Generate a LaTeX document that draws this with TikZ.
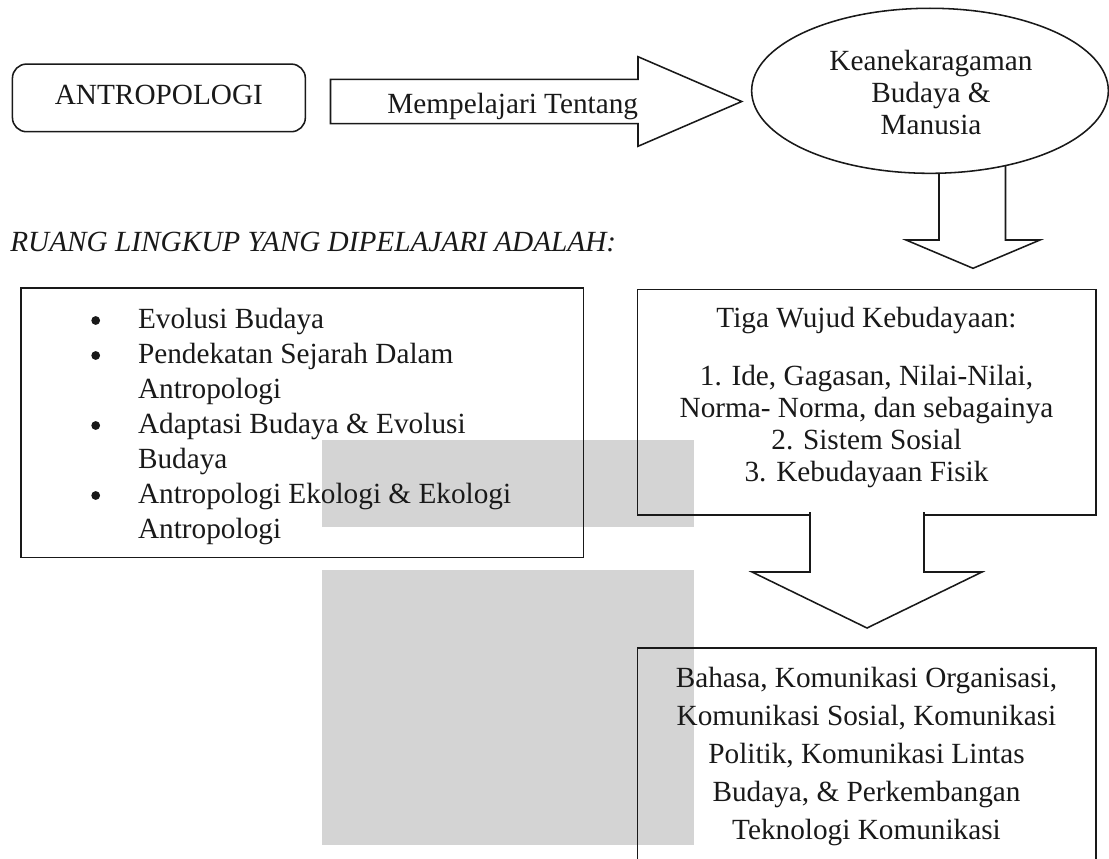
\documentclass[tikz,border=0pt]{standalone}
\usepackage{fontspec}
\setmainfont{Liberation Serif}
\usetikzlibrary{shapes.geometric}
\definecolor{wm}{RGB}{212,212,212}
\definecolor{ink}{RGB}{25,25,25}
\begin{document}
\begin{tikzpicture}[x=0.025cm,y=-0.025cm,
  outl/.style={draw=ink, line width=1.1pt},
  boxw/.style={outl, fill=white, inner sep=0pt},
  boxo/.style={outl, inner sep=0pt},
  txt/.style={text=ink, inner sep=0pt, font=\fontsize{20.81}{22.55}\selectfont},
  bul/.style={fill=ink},
]
\useasboundingbox (0,0) rectangle (1109,859);
\clip (0,0) rectangle (1109,859);
% watermark blocks
\fill[wm] (321.5,440) rectangle (694,527);
\fill[wm] (321.5,570) rectangle (694,845);

% ANTROPOLOGI
\node[boxw, rounded corners=0.35cm, minimum width=7.32cm, minimum height=1.69cm] (antro) at (158.9,97.9) {};
\node[txt, anchor=base] (antrotxt) at (158.9,105) {ANTROPOLOGI};

% block arrow: Mempelajari Tentang
\draw[outl, fill=white] (330.5,79.3) -- (638,79.3) -- (638,56.7) -- (741.7,101.5) -- (638,146.3) -- (638,123.7) -- (330.5,123.7) -- cycle;
\node[txt, anchor=base] (learn) at (512.7,114) {Mempelajari Tentang};

% block arrow down from ellipse
\draw[outl, fill=white] (939,150) -- (939,240) -- (906,240) -- (973,268.3) -- (1040,240) -- (1005.5,240) -- (1005.5,150) -- cycle;

% ellipse
\node[boxw, ellipse, minimum width=8.915cm, minimum height=4.125cm] (ell) at (930,90.8) {};
\node[txt, align=center, anchor=north] (elltxt) at (931,50.2) {Keanekaragaman\\Budaya \&\\Manusia};

% heading
\node[txt, anchor=base west] (ruang) at (10,252) {\textit{RUANG LINGKUP YANG DIPELAJARI ADALAH:}};

% list box
\node[boxo, minimum width=14.065cm, minimum height=6.725cm] (list) at (302.3,422.8) {};
\node[txt, anchor=north west, font=\fontsize{20.81}{24.9}\selectfont] (listtxt) at (137.8,304) {%
\begin{tabular}{@{}l@{}}
Evolusi Budaya\\
Pendekatan Sejarah Dalam\\
Antropologi\\
Adaptasi Budaya \& Evolusi\\
Budaya\\
Antropologi Ekologi \& Ekologi\\
Antropologi
\end{tabular}};
\fill[bul] (95.7,320.5) circle (4.4);
\fill[bul] (95.7,355.5) circle (4.4);
\fill[bul] (95.7,425.5) circle (4.4);
\fill[bul] (95.7,495.5) circle (4.4);

% Tiga Wujud box
\node[boxo, minimum width=11.45cm, minimum height=5.64cm] (tiga) at (866.7,402.2) {};
\node[txt, align=center, anchor=north, font=\fontsize{20.81}{22.7}\selectfont] (tigatxt) at (866.5,306.8) {Tiga Wujud Kebudayaan:\\[0.66cm]1. Ide, Gagasan, Nilai-Nilai,\\Norma- Norma, dan sebagainya\\2. Sistem Sosial\\3. Kebudayaan Fisik};

% block arrow down from Tiga box
\draw[outl, fill=white] (810,512) -- (810,572) -- (752,572) -- (867,628) -- (982,572) -- (924,572) -- (924,512);

% Bahasa box
\node[boxo, minimum width=11.45cm, minimum height=6.5cm] (bahasa) at (866.7,778.3) {};
\node[txt, align=center, anchor=north, font=\fontsize{20.81}{27.03}\selectfont] (bahasatxt) at (866.5,666.8) {Bahasa, Komunikasi Organisasi,\\Komunikasi Sosial, Komunikasi\\Politik, Komunikasi Lintas\\Budaya, \& Perkembangan\\Teknologi Komunikasi};
\end{tikzpicture}
\end{document}
